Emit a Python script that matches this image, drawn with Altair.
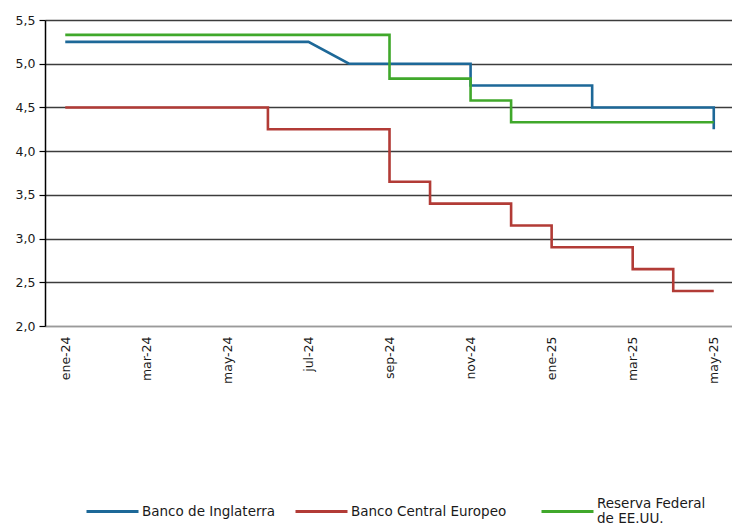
import altair as alt
import pandas as pd
import json

month_labels = ["ene-24", "feb-24", "mar-24", "abr-24", "may-24", "jun-24", "jul-24",
                "ago-24", "sep-24", "oct-24", "nov-24", "dic-24", "ene-25", "feb-25",
                "mar-25", "abr-25", "may-25"]
series_names = ["Banco de Inglaterra", "Banco Central Europeo", "Reserva Federal de EE.UU."]
series_colors = ["#1d6898", "#b23b36", "#40a82b"]

boe_month = [0, 6, 7, 10, 10, 13, 13, 16, 16]
boe_rate = [5.25, 5.25, 5.00, 5.00, 4.75, 4.75, 4.50, 4.50, 4.25]

ecb_month = [0, 5, 5, 8, 8, 9, 9, 11, 11, 12, 12, 14, 14, 15, 15, 16]
ecb_rate = [4.50, 4.50, 4.25, 4.25, 3.65, 3.65, 3.40, 3.40, 3.15, 3.15, 2.90, 2.90,
            2.65, 2.65, 2.40, 2.40]

fed_month = [0, 8, 8, 10, 10, 11, 11, 16]
fed_rate = [5.33, 5.33, 4.83, 4.83, 4.58, 4.58, 4.33, 4.33]

y_ticks = [2.0, 2.5, 3.0, 3.5, 4.0, 4.5, 5.0, 5.5]
x_ticks = [0, 2, 4, 6, 8, 10, 12, 14, 16]

rows = []
for name, ms, rs in zip(series_names, [boe_month, ecb_month, fed_month],
                        [boe_rate, ecb_rate, fed_rate]):
    for i, (m, r) in enumerate(zip(ms, rs)):
        rows.append({"serie": name, "mes": m, "tasa": r, "idx": i})
df = pd.DataFrame(rows)

FONT = "DejaVu Sans"
label_expr_x = json.dumps(month_labels) + "[datum.value]"

x_enc = alt.X("mes:Q",
              scale=alt.Scale(domain=[-0.5, 16.45], nice=False, zero=False),
              axis=alt.Axis(values=x_ticks, labelExpr=label_expr_x, labelAngle=-90,
                            ticks=False, grid=False, title=None, labelPadding=10,
                            labelFontSize=12.5, labelFont=FONT, labelColor="#1a1a1a",
                            domainColor="#9a9a9a", domainWidth=1.5))
y_enc = alt.Y("tasa:Q",
              scale=alt.Scale(domain=[2.0, 5.5], nice=False, zero=False),
              axis=alt.Axis(values=y_ticks,
                            labelExpr="replace(format(datum.value, '.1f'), '.', ',')",
                            title=None, grid=True,
                            gridColor=alt.condition("datum.value == 2", alt.value("#9a9a9a"), alt.value("#3c3c3c")),
                            gridWidth=1.5, domainColor="#000000", domainWidth=1.5,
                            tickColor="#000000", tickSize=6, tickWidth=1.2, labelPadding=4,
                            labelFontSize=12.5, labelFont=FONT, labelColor="#1a1a1a"))

legend_common = dict(orient="none", direction="horizontal", title=None,
                     symbolType="stroke", symbolSize=2704, symbolStrokeWidth=3,
                     labelOffset=2, labelFontSize=13.5, labelFont=FONT,
                     labelColor="#1a1a1a", labelLimit=300, legendY=464)

base = alt.Chart(df).mark_line(strokeWidth=2.6, strokeCap="butt", strokeJoin="miter")

two = base.transform_filter(
    alt.FieldOneOfPredicate(field="serie", oneOf=series_names[:2])
).encode(
    x=x_enc, y=y_enc,
    color=alt.Color("serie:N",
                    scale=alt.Scale(domain=series_names[:2], range=series_colors[:2]),
                    legend=alt.Legend(legendX=40, columnPadding=13, **legend_common)),
    order=alt.Order("idx:Q"),
)

fed = base.transform_filter(
    alt.FieldEqualPredicate(field="serie", equal=series_names[2])
).encode(
    x=x_enc, y=y_enc,
    stroke=alt.Stroke("serie:N",
                      scale=alt.Scale(domain=series_names[2:], range=series_colors[2:]),
                      legend=alt.Legend(legendX=495, labelBaseline="line-bottom",
                                        labelExpr="['Reserva Federal', 'de EE.UU.']",
                                        **legend_common)),
    order=alt.Order("idx:Q"),
)

chart = alt.layer(two, fed).properties(
    width=687, height=306,
    autosize=alt.AutoSizeParams(type="none"),
    padding={"left": 45, "top": 20, "right": 0, "bottom": 198},
).configure_view(stroke=None)

chart.save("out.html", embed_options={"renderer": "svg", "actions": False})
